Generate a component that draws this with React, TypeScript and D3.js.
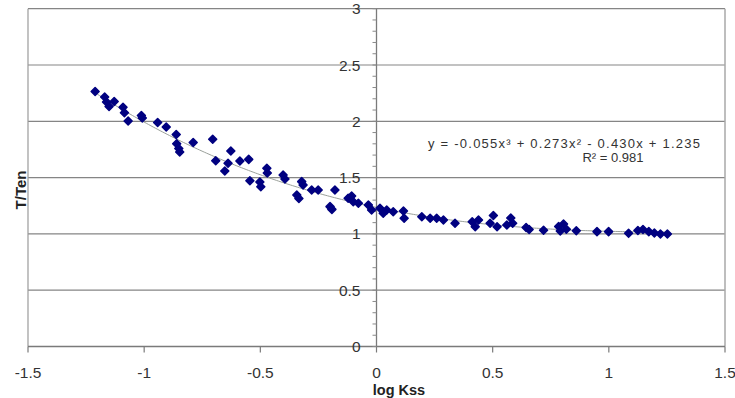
import { useEffect, useRef } from 'react';
import * as d3 from 'd3';

// log Kss values
const logKss = [
  -1.211, -1.170, -1.162, -1.151, -1.129, -1.091, -1.085, -1.069, -1.012, -1.008,
  -0.942, -0.905, -0.862, -0.860, -0.851, -0.847, -0.789, -0.705, -0.692, -0.639,
  -0.627, -0.653, -0.588, -0.550, -0.545, -0.502, -0.498, -0.472, -0.470, -0.402,
  -0.394, -0.343, -0.334, -0.322, -0.316, -0.279, -0.251, -0.179, -0.200, -0.192,
  -0.122, -0.107, -0.100, -0.078, -0.035, -0.021, 0.015, 0.029, 0.044, 0.072,
  0.116, 0.119, 0.195, 0.231, 0.259, 0.288, 0.338, 0.412, 0.425, 0.439,
  0.489, 0.503, 0.519, 0.561, 0.578, 0.586, 0.644, 0.657, 0.719, 0.784,
  0.791, 0.805, 0.817, 0.860, 0.949, 0.999, 1.085, 1.125, 1.147, 1.172,
  1.196, 1.222, 1.252
];

const tTen = [
  2.265, 2.216, 2.171, 2.131, 2.176, 2.124, 2.076, 2.003, 2.052, 2.029,
  1.989, 1.949, 1.883, 1.801, 1.758, 1.727, 1.812, 1.840, 1.650, 1.627,
  1.736, 1.559, 1.647, 1.662, 1.472, 1.461, 1.419, 1.583, 1.541, 1.523,
  1.488, 1.345, 1.314, 1.464, 1.434, 1.390, 1.390, 1.390, 1.242, 1.218,
  1.316, 1.337, 1.286, 1.272, 1.257, 1.212, 1.227, 1.183, 1.212, 1.197,
  1.203, 1.139, 1.153, 1.139, 1.139, 1.123, 1.094, 1.108, 1.064, 1.123,
  1.094, 1.163, 1.064, 1.079, 1.141, 1.094, 1.057, 1.039, 1.032, 1.066,
  1.026, 1.088, 1.041, 1.028, 1.020, 1.020, 1.005, 1.030, 1.039, 1.020,
  1.008, 0.999, 0.999
];

// cubic trendline coefficients, highest power first (as printed on the chart)
const trendCoef = [-0.055, 0.273, -0.430, 1.235];
const xTicks = [-1.5, -1, -0.5, 0, 0.5, 1, 1.5];
const yTicks = [0, 0.5, 1, 1.5, 2, 2.5, 3];
const equationText = 'y = -0.055x³ + 0.273x² - 0.430x + 1.235';
const r2Text = 'R² = 0.981';

export default function App() {
  const svgRef = useRef<SVGSVGElement>(null);

  useEffect(() => {
    const width = 735;
    const height = 398;
    const svg = d3.select(svgRef.current);
    svg.selectAll('*').remove();
    svg.attr('width', width).attr('height', height);

    const font = '"Liberation Sans", Arial, sans-serif';

    const x = d3.scaleLinear().domain([-1.5, 1.5]).range([28, 725]);
    const y = d3.scaleLinear().domain([0, 3]).range([346.5, 8.7]);

    // gridlines
    svg.append('g')
      .selectAll('line')
      .data(yTicks.filter(t => t > 0))
      .enter().append('line')
      .attr('x1', x(-1.5)).attr('x2', x(1.5))
      .attr('y1', d => y(d)).attr('y2', d => y(d))
      .attr('stroke', '#858585').attr('stroke-width', 1.2);

    // plot frame sides
    svg.append('line')
      .attr('x1', x(-1.5)).attr('x2', x(-1.5)).attr('y1', y(3)).attr('y2', y(0))
      .attr('stroke', '#9a9a9a').attr('stroke-width', 1.2);
    svg.append('line')
      .attr('x1', x(1.5)).attr('x2', x(1.5)).attr('y1', y(3)).attr('y2', y(0))
      .attr('stroke', '#a8a8a8').attr('stroke-width', 1.5);

    // x axis along y = 0
    svg.append('line')
      .attr('x1', x(-1.5)).attr('x2', x(1.5)).attr('y1', y(0)).attr('y2', y(0))
      .attr('stroke', '#7a7a7a').attr('stroke-width', 1.3);
    svg.append('g')
      .selectAll('line')
      .data(xTicks)
      .enter().append('line')
      .attr('x1', d => x(d)).attr('x2', d => x(d))
      .attr('y1', y(0)).attr('y2', y(0) + 6)
      .attr('stroke', '#7a7a7a').attr('stroke-width', 1.2);
    svg.append('g')
      .selectAll('text')
      .data(xTicks)
      .enter().append('text')
      .attr('x', d => x(d))
      .attr('y', 378)
      .attr('text-anchor', 'middle')
      .style('font-family', font)
      .style('font-size', '15.5px')
      .style('fill', '#333')
      .text(d => String(d));

    // y axis crossing at x = 0
    const x0 = x(0);
    svg.append('line')
      .attr('x1', x0).attr('x2', x0).attr('y1', y(3)).attr('y2', y(0))
      .attr('stroke', '#7a7a7a').attr('stroke-width', 1.3);
    const minor = d3.range(0, 31).map(i => i / 10);
    svg.append('g')
      .selectAll('line')
      .data(minor)
      .enter().append('line')
      .attr('x1', x0 - 4).attr('x2', x0)
      .attr('y1', d => y(d)).attr('y2', d => y(d))
      .attr('stroke', '#8a8a8a').attr('stroke-width', 1);
    svg.append('g')
      .selectAll('text')
      .data(yTicks)
      .enter().append('text')
      .attr('x', x0 - 16)
      .attr('y', d => y(d) + 5.5)
      .attr('text-anchor', 'end')
      .style('font-family', font)
      .style('font-size', '15.5px')
      .style('fill', '#333')
      .text(d => String(d));

    // trendline
    const poly = (v: number) => trendCoef.reduce((acc, c) => acc * v + c, 0);
    const xs = d3.range(d3.min(logKss) as number, (d3.max(logKss) as number) + 0.001, 0.01);
    svg.append('path')
      .datum(xs)
      .attr('fill', 'none')
      .attr('stroke', '#9aa09a')
      .attr('stroke-width', 1)
      .attr('d', d3.line<number>().x(d => x(d)).y(d => y(poly(d))));

    // data points (diamonds)
    const sym = d3.symbol().type(d3.symbolSquare).size(32);
    svg.append('g')
      .selectAll('path')
      .data(logKss.map((v, i) => [v, tTen[i]]))
      .enter().append('path')
      .attr('d', sym as any)
      .attr('transform', d => `translate(${x(d[0])},${y(d[1])}) rotate(45)`)
      .attr('fill', '#000080')
      .attr('stroke', '#000080')
      .attr('stroke-width', 1.5)
      .attr('stroke-linejoin', 'round');

    // equation
    svg.append('text')
      .attr('x', 428).attr('y', 147.5)
      .attr('textLength', 272)
      .attr('lengthAdjust', 'spacing')
      .style('font-family', font)
      .style('font-size', '13px')
      .style('fill', '#333')
      .text(equationText);
    svg.append('text')
      .attr('x', 613).attr('y', 162)
      .attr('text-anchor', 'middle')
      .style('font-family', font)
      .style('font-size', '13px')
      .style('fill', '#333')
      .text(r2Text);

    // axis titles
    svg.append('text')
      .attr('x', 399).attr('y', 395)
      .attr('text-anchor', 'middle')
      .style('font-family', font)
      .style('font-size', '14.5px')
      .style('font-weight', 'bold')
      .style('fill', '#222')
      .text('log Kss');
    svg.append('text')
      .attr('transform', 'translate(26,190) rotate(-90)')
      .attr('text-anchor', 'middle')
      .style('font-family', font)
      .style('font-size', '15px')
      .style('font-weight', 'bold')
      .style('fill', '#222')
      .text('T/Ten');
  }, []);

  return (
    <div style={{ position: 'absolute', left: 0, top: 0 }}>
      <svg ref={svgRef}></svg>
    </div>
  );
}
